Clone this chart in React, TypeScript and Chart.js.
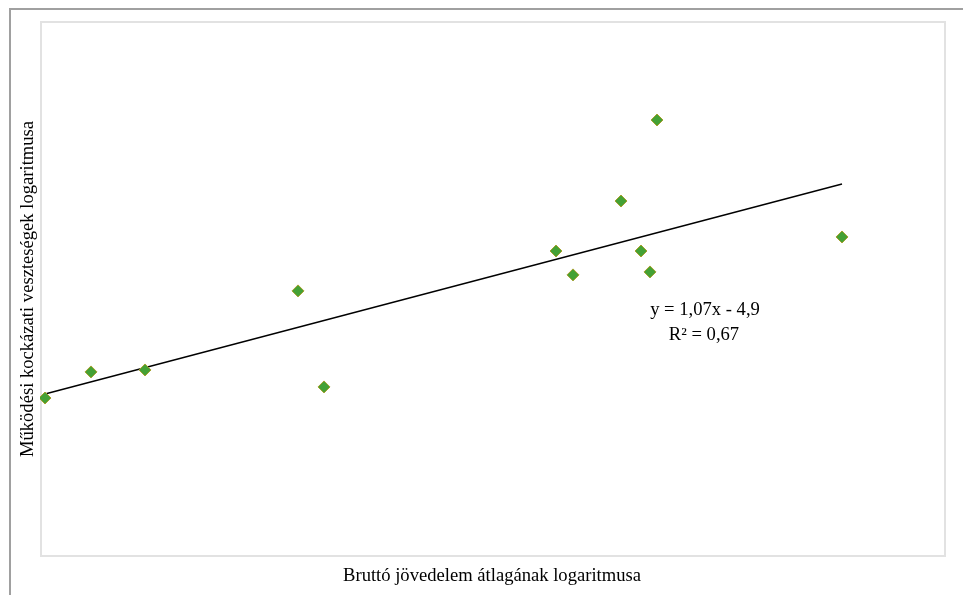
import React, { useEffect, useRef } from "react";
import { Chart, registerables } from "chart.js";

Chart.register(...registerables);

// Logarithm of average gross income (x) vs. logarithm of operational risk losses (y)
const incomeLog = [4.605, 4.651, 4.705, 4.858, 4.884, 5.116, 5.133, 5.181, 5.217, 5.201, 5.21, 5.402];
const lossLog = [0.011, 0.117, 0.125, 0.446, 0.056, 0.608, 0.511, 0.811, 1.14, 0.608, 0.523, 0.665];

// Linear trend reported on the chart
const trendSlope = 1.07;
const trendIntercept = -4.9;
const trendLabel = ["y = 1,07x - 4,9", "R² = 0,67"];

const xTitle = "Bruttó jövedelem átlagának logaritmusa";
const yTitle = "Működési kockázati veszteségek logaritmusa";

const xRange = [4.6, 5.505];
const yRange = [-0.6305, 1.538];

const W = 963;
const H = 595;
const FONT = '18.6px "Liberation Serif", "Times New Roman", serif';

const decorations = {
  id: "decorations",
  beforeDraw(chart: any) {
    const ctx = chart.ctx;
    ctx.save();
    ctx.fillStyle = "#ffffff";
    ctx.fillRect(0, 0, W, H);
    // outer frame
    ctx.fillStyle = "#a0a0a0";
    ctx.fillRect(9, 8, W - 9, 2);
    ctx.fillRect(9, 8, 2, H - 8);
    // plot area border
    ctx.strokeStyle = "#e2e2e2";
    ctx.lineWidth = 2;
    ctx.strokeRect(41, 22, 904, 534);
    ctx.restore();
  },
  afterDraw(chart: any) {
    const ctx = chart.ctx;
    ctx.save();
    ctx.fillStyle = "#000000";
    ctx.font = FONT;
    ctx.textAlign = "center";
    ctx.textBaseline = "middle";
    ctx.fillText(xTitle, 492, 576);
    ctx.fillText(trendLabel[0], 705, 310);
    ctx.fillText(trendLabel[1], 704, 335);
    ctx.translate(28, 289);
    ctx.rotate(-Math.PI / 2);
    ctx.fillText(yTitle, 0, 0);
    ctx.restore();
  },
};

export default function App() {
  const ref = useRef<HTMLCanvasElement | null>(null);

  useEffect(() => {
    if (!ref.current) return;
    const points = incomeLog.map((x, i) => ({ x, y: lossLog[i] }));
    const xMin = Math.min(...incomeLog);
    const xMax = Math.max(...incomeLog);
    const trend = [xMin, xMax].map((x) => ({ x, y: trendSlope * x + trendIntercept }));

    const chart = new Chart(ref.current, {
      type: "scatter",
      data: {
        datasets: [
          {
            data: points,
            order: 0,
            pointStyle: "rectRot",
            pointRadius: 6,
            pointBackgroundColor: "#44a135",
            pointBorderColor: "#a3a02c",
            pointBorderWidth: 1,
            showLine: false,
          },
          {
            data: trend,
            order: 1,
            showLine: true,
            borderColor: "#000000",
            borderWidth: 1.3,
            pointRadius: 0,
            fill: false,
          },
        ],
      },
      options: {
        animation: false,
        responsive: false,
        devicePixelRatio: 1,
        layout: { padding: { left: 40, right: 18, top: 22, bottom: 39 } },
        plugins: { legend: { display: false }, tooltip: { enabled: false } },
        scales: {
          x: { type: "linear", display: false, min: xRange[0], max: xRange[1] },
          y: { type: "linear", display: false, min: yRange[0], max: yRange[1] },
        },
      },
      plugins: [decorations],
    });
    return () => chart.destroy();
  }, []);

  return (
    <div style={{ position: "fixed", left: 0, top: 0, width: W, height: H, background: "#fff" }}>
      <canvas ref={ref} width={W} height={H} style={{ display: "block", width: W, height: H }} />
    </div>
  );
}
